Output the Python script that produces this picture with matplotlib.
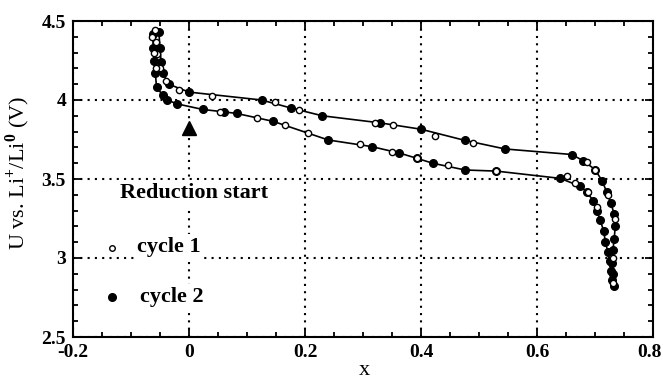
import matplotlib
matplotlib.use("Agg")
import matplotlib.pyplot as plt
import matplotlib.transforms as mtransforms
from matplotlib.ticker import MultipleLocator

plt.rcParams['font.family'] = ['Liberation Serif', 'DejaVu Serif']
plt.rcParams['font.weight'] = 'bold'
plt.rcParams['mathtext.fontset'] = 'custom'
plt.rcParams['mathtext.rm'] = 'Liberation Serif:bold'
plt.rcParams['mathtext.bf'] = 'Liberation Serif:bold'

# cycle 2 (filled) - upper branch, top-left to bottom-right
c2_up_x = [-0.052, -0.050, -0.048, -0.045, -0.035, 0.000, 0.125, 0.175, 0.230,
           0.330, 0.400, 0.475, 0.545, 0.660, 0.680, 0.700, 0.712, 0.720,
           0.727, 0.733, 0.735, 0.733, 0.731, 0.730, 0.731, 0.733]
c2_up_u = [4.43, 4.33, 4.24, 4.17, 4.10, 4.05, 4.00, 3.95, 3.90,
           3.855, 3.815, 3.745, 3.69, 3.655, 3.615, 3.56, 3.49, 3.42,
           3.35, 3.28, 3.20, 3.12, 3.05, 2.97, 2.90, 2.82]
# cycle 2 (filled) - lower branch
c2_lo_x = [-0.062, -0.062, -0.060, -0.058, -0.056, -0.045, -0.038, -0.020, 0.024,
           0.060, 0.082, 0.145, 0.240, 0.315, 0.362, 0.393, 0.420, 0.476,
           0.530, 0.640, 0.674, 0.686, 0.697, 0.703, 0.709, 0.715, 0.718,
           0.722, 0.725, 0.727, 0.729]
c2_lo_u = [4.42, 4.33, 4.25, 4.17, 4.08, 4.03, 4.00, 3.975, 3.94,
           3.925, 3.915, 3.865, 3.747, 3.705, 3.665, 3.631, 3.60, 3.557,
           3.55, 3.504, 3.455, 3.42, 3.36, 3.30, 3.24, 3.17, 3.10,
           3.04, 2.98, 2.92, 2.86]
# cycle 1 (open)
c1_up_x = [-0.058, -0.057, -0.055, -0.050, -0.040, -0.018, 0.039, 0.148, 0.190,
           0.320, 0.352, 0.424, 0.490, 0.686, 0.700, 0.723, 0.734, 0.731, 0.731]
c1_up_u = [4.44, 4.37, 4.29, 4.20, 4.12, 4.063, 4.025, 3.985, 3.935,
           3.856, 3.842, 3.77, 3.726, 3.61, 3.557, 3.40, 3.25, 3.00, 2.84]
c1_lo_x = [-0.063, -0.060, -0.057, 0.053, 0.117, 0.166, 0.206, 0.295, 0.350,
           0.393, 0.447, 0.530, 0.651, 0.666, 0.688, 0.703]
c1_lo_u = [4.40, 4.30, 4.20, 3.926, 3.884, 3.842, 3.794, 3.722, 3.673,
           3.631, 3.589, 3.55, 3.519, 3.473, 3.42, 3.325]

reduction_x = 0.0
reduction_u = 3.823

x_ticks = [-0.2, 0, 0.2, 0.4, 0.6, 0.8]
x_labels = ['-0.2', '0', '0.2', '0.4', '0.6', '0.8']
y_ticks = [2.5, 3, 3.5, 4, 4.5]
y_labels = ['2.5', '3', '3.5', '4', '4.5']

fig = plt.figure(figsize=(6.63, 3.80), dpi=100)
ax = fig.add_axes([73/663, 1 - 337/380, 580/663, 316/380])

# lines through the points
ax.plot(c2_up_x, c2_up_u, color='k', lw=1.2, zorder=3)
ax.plot(c2_lo_x, c2_lo_u, color='k', lw=1.2, zorder=3)

ax.plot(c2_up_x + c2_lo_x, c2_up_u + c2_lo_u, ls='none', marker='o', ms=5.5,
        mfc='k', mec='k', zorder=4)
ax.plot(c1_up_x + c1_lo_x, c1_up_u + c1_lo_u, ls='none', marker='o', ms=4.5,
        mfc='white', mec='k', mew=1.0, zorder=5)

# reduction start arrow
ax.plot([reduction_x], [reduction_u], ls='none', marker='^', ms=10, color='k', zorder=5)

# hand-placed legend
box = dict(facecolor='white', edgecolor='none', pad=2)
ax.text(-0.119, 3.411, "Reduction start", fontsize=16, va='center', ha='left',
        bbox=box, zorder=6)
ax.plot([-0.133], [3.064], ls='none', marker='o', ms=4, mfc='white', mec='k', zorder=7)
ax.text(-0.090, 3.070, "cycle 1", fontsize=16, va='center', ha='left', bbox=box, zorder=6)
ax.plot([-0.133], [2.753], ls='none', marker='o', ms=5.5, mfc='k', mec='k', zorder=7)
ax.text(-0.085, 2.753, "cycle 2", fontsize=16, va='center', ha='left', bbox=box, zorder=6)

ax.set_xlim(-0.2, 0.8)
ax.set_ylim(2.5, 4.5)
ax.set_xticks(x_ticks)
ax.set_xticklabels(x_labels)
ax.set_yticks(y_ticks)
ax.set_yticklabels(y_labels)
ax.xaxis.set_minor_locator(MultipleLocator(0.05))
ax.yaxis.set_minor_locator(MultipleLocator(0.1))

ax.tick_params(which='both', direction='in', top=True, right=True, width=1.3)
ax.tick_params(which='major', length=6, labelsize=14, pad=5)
ax.tick_params(which='minor', length=3.5)
for s in ax.spines.values():
    s.set_linewidth(1.5)

# pull the last x label in a bit so it stays on the canvas
last = ax.get_xticklabels()[-1]
last.set_transform(last.get_transform() +
                   mtransforms.ScaledTranslation(-4/100, 0, fig.dpi_scale_trans))

ax.grid(True, which='major', color='k', lw=1.5, ls=(0, (1, 2.5)), zorder=1)
ax.set_axisbelow(True)

ax.set_xlabel("x", fontsize=16)
ax.xaxis.set_label_coords(0.503, -0.076)
ax.set_ylabel(r"U vs. Li$^{+}$/Li$^{0}$ (V)", fontsize=16)
ax.yaxis.set_label_coords(-0.07, 0.52)

fig.savefig("out.png", dpi=100)
